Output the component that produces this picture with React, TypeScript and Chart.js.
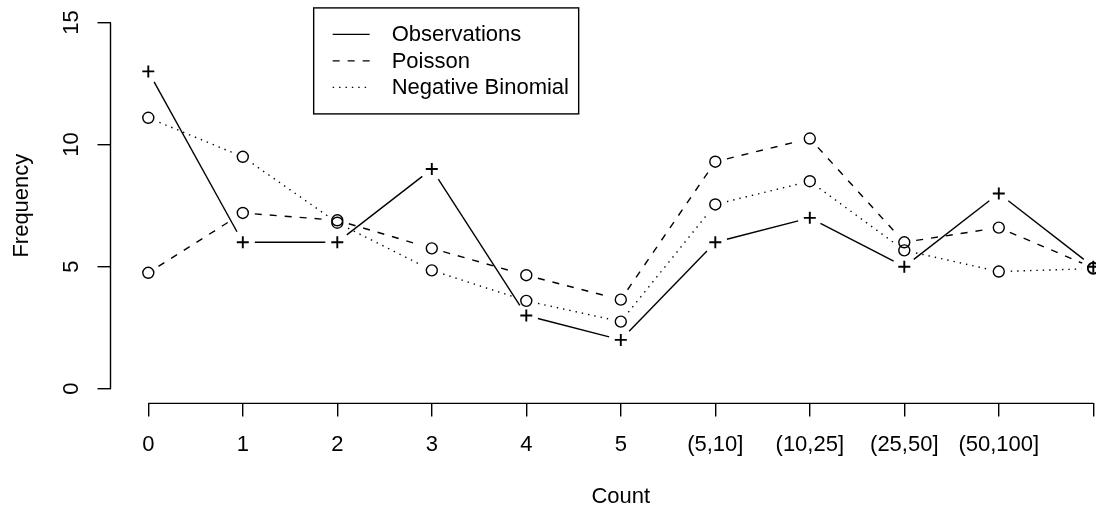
import React, { useEffect, useRef } from "react";
import { Chart, registerables } from "chart.js";

Chart.register(...registerables);

// ---- data ----
const categories = ["0", "1", "2", "3", "4", "5", "(5,10]", "(10,25]", "(25,50]", "(50,100]", ""];
const observations = [13, 6, 6, 9, 3, 2, 6, 7, 5, 8, 5];
const poisson = [4.75, 7.2, 6.9, 5.75, 4.65, 3.65, 9.3, 10.25, 6.0, 6.6, 4.95];
const negBinomial = [11.1, 9.5, 6.8, 4.85, 3.6, 2.75, 7.55, 8.5, 5.67, 4.8, 4.92];
const yTickValues = [0, 5, 10, 15];
const seriesLabels = ["Observations", "Poisson", "Negative Binomial"];
const xTitle = "Count";
const yTitle = "Frequency";

const FONT = "'Liberation Sans', Arial, Helvetica, sans-serif";
const FS = 22;
const LW = 1.4;
const GAP = 12;
const CANVAS_W = 1139;

const toXY = (arr: number[]) => arr.map((v, i) => ({ x: i, y: v }));

// R type="b": segments between points with gaps around each point
const gappedLines = {
  id: "gappedLines",
  beforeDatasetsDraw(chart: any) {
    const ctx = chart.ctx;
    chart.data.datasets.forEach((ds: any, di: number) => {
      const meta = chart.getDatasetMeta(di);
      const pts = meta.data;
      ctx.save();
      ctx.strokeStyle = ds.lineColor;
      ctx.lineWidth = ds.lineWidth;
      ctx.lineCap = "butt";
      for (let i = 0; i < pts.length - 1; i++) {
        const a = pts[i];
        const b = pts[i + 1];
        const dx = b.x - a.x;
        const dy = b.y - a.y;
        const len = Math.hypot(dx, dy);
        if (len <= 2 * GAP) continue;
        const ux = dx / len;
        const uy = dy / len;
        ctx.setLineDash(ds.lineDash || []);
        ctx.lineDashOffset = 0;
        ctx.beginPath();
        ctx.moveTo(a.x + ux * GAP, a.y + uy * GAP);
        ctx.lineTo(b.x - ux * GAP, b.y - uy * GAP);
        ctx.stroke();
      }
      ctx.restore();
    });
  },
};

// axis lines drawn like R (only between first and last tick)
const axisLines = {
  id: "axisLines",
  afterDraw(chart: any) {
    const ctx = chart.ctx;
    const xs = chart.scales.x;
    const ys = chart.scales.y;
    const area = chart.chartArea;
    ctx.save();
    ctx.strokeStyle = "#000";
    ctx.lineWidth = LW;
    ctx.beginPath();
    ctx.moveTo(area.left, ys.getPixelForValue(yTickValues[0]));
    ctx.lineTo(area.left, ys.getPixelForValue(yTickValues[yTickValues.length - 1]));
    ctx.moveTo(xs.getPixelForValue(0), area.bottom);
    ctx.lineTo(xs.getPixelForValue(categories.length - 1), area.bottom);
    ctx.stroke();
    ctx.restore();
  },
};

// R-style boxed legend
const rLegend = {
  id: "rLegend",
  afterDraw(chart: any) {
    const ctx = chart.ctx;
    const area = chart.chartArea;
    const xs = chart.scales.x;
    const left = xs.getPixelForValue(1.75);
    const top = area.top;
    const rowH = 26.5;
    const width = 265;
    const height = rowH * 4;
    ctx.save();
    ctx.strokeStyle = "#000";
    ctx.lineWidth = LW;
    ctx.setLineDash([]);
    ctx.strokeRect(left, top, width, height);
    ctx.font = `${FS}px ${FONT}`;
    ctx.fillStyle = "#000";
    ctx.textBaseline = "middle";
    ctx.textAlign = "left";
    chart.data.datasets.forEach((ds: any, i: number) => {
      const y = top + rowH * (i + 1);
      ctx.setLineDash(ds.lineDash || []);
      ctx.lineDashOffset = 0;
      ctx.lineWidth = ds.lineWidth;
      ctx.beginPath();
      ctx.moveTo(left + 19, y);
      ctx.lineTo(left + 56, y);
      ctx.stroke();
      ctx.setLineDash([]);
      ctx.fillText(ds.label, left + 78, y + 1);
    });
    ctx.restore();
  },
};

export default function App() {
  const ref = useRef<HTMLCanvasElement | null>(null);

  useEffect(() => {
    document.body.style.margin = "0";
    const canvas = ref.current;
    if (!canvas) return;
    Chart.defaults.font.family = FONT;
    Chart.defaults.font.size = FS;
    Chart.defaults.color = "#000";

    const common = {
      showLine: false,
      pointBorderColor: "#000",
      pointBackgroundColor: "rgba(0,0,0,0)",
      lineColor: "#000",
      lineWidth: LW,
      clip: false,
    };

    const chart = new Chart(canvas, {
      type: "line",
      data: {
        datasets: [
          {
            ...common,
            label: seriesLabels[0],
            data: toXY(observations),
            pointStyle: "cross",
            pointRadius: 6,
            pointBorderWidth: 1.9,
            lineDash: [],
          } as any,
          {
            ...common,
            label: seriesLabels[1],
            data: toXY(poisson),
            pointStyle: "circle",
            pointRadius: 5.5,
            pointBorderWidth: LW,
            lineDash: [7, 8],
          } as any,
          {
            ...common,
            label: seriesLabels[2],
            data: toXY(negBinomial),
            pointStyle: "circle",
            pointRadius: 5.5,
            pointBorderWidth: LW,
            lineDash: [1.4, 5],
          } as any,
        ],
      },
      options: {
        responsive: false,
        maintainAspectRatio: false,
        animation: false,
        events: [],
        layout: { padding: { top: 7.3, left: 0, right: 0, bottom: 0 } },
        plugins: {
          legend: { display: false },
          tooltip: { enabled: false },
          title: { display: false },
        },
        scales: {
          x: {
            type: "linear",
            min: -0.4,
            max: categories.length - 1 + 0.4,
            afterBuildTicks: (s: any) => {
              s.ticks = categories.map((_, i) => ({ value: i }));
            },
            afterFit: (s: any) => {
              s.height = 108.6;
              s.paddingLeft = 0;
              s.paddingRight = 0;
            },
            border: { display: false },
            grid: {
              drawOnChartArea: false,
              drawTicks: true,
              tickLength: 13,
              color: "#000",
              lineWidth: LW,
            },
            ticks: {
              autoSkip: false,
              maxRotation: 0,
              minRotation: 0,
              padding: 15,
              callback: (v: any) => categories[Math.round(Number(v))] ?? "",
              font: { size: FS, family: FONT },
              color: "#000",
            },
            title: {
              display: true,
              text: xTitle,
              font: { size: FS, family: FONT },
              color: "#000",
              padding: { top: 0, bottom: 2 },
            },
          },
          y: {
            type: "linear",
            min: -0.6,
            max: 15.6,
            afterBuildTicks: (s: any) => {
              s.ticks = yTickValues.map((v) => ({ value: v }));
            },
            afterFit: (s: any) => {
              s.width = 110.5;
              s.paddingTop = 0;
              s.paddingBottom = 0;
            },
            border: { display: false },
            grid: {
              drawOnChartArea: false,
              drawTicks: true,
              tickLength: 13,
              color: "#000",
              lineWidth: LW,
            },
            ticks: {
              minRotation: 90,
              maxRotation: 90,
              crossAlign: "center",
              padding: 13,
              font: { size: FS, family: FONT },
              color: "#000",
              callback: (v: any) => String(v),
            },
            title: {
              display: true,
              text: yTitle,
              font: { size: FS, family: FONT },
              color: "#000",
              padding: { top: 9, bottom: 0 },
            },
          },
        },
      } as any,
      plugins: [gappedLines, axisLines, rLegend],
    });

    return () => chart.destroy();
  }, []);

  return (
    <div
      style={{
        position: "fixed",
        left: 0,
        top: 0,
        width: 1096,
        height: 512,
        overflow: "hidden",
        background: "#fff",
      }}
    >
      <canvas
        ref={ref}
        width={CANVAS_W}
        height={512}
        style={{ display: "block", width: CANVAS_W, height: 512 }}
      />
    </div>
  );
}
